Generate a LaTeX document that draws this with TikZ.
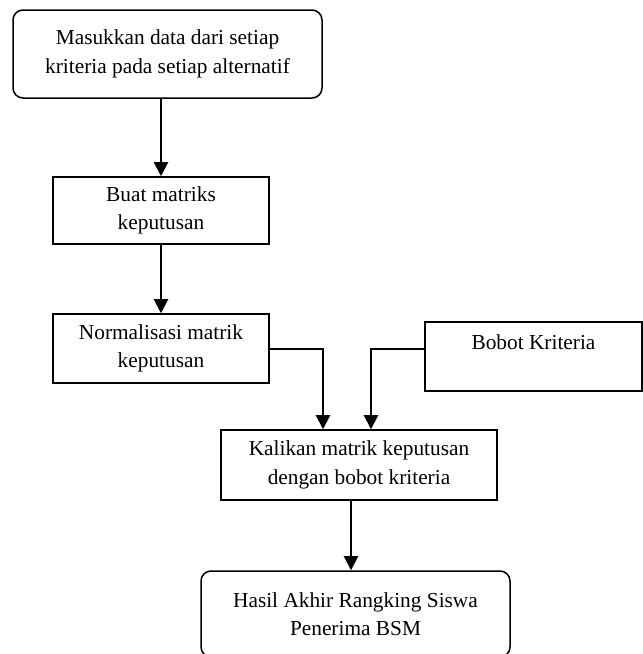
\documentclass[tikz,border=0pt]{standalone}
\usepackage{fontspec}
\setmainfont{Liberation Serif}
\usetikzlibrary{arrows.meta,calc}

\begin{document}
\begin{tikzpicture}[x=0.6pt,y=-0.6pt,
  kotak/.style={shape=rectangle,draw=black,line width=0.9pt,align=center,font=\fontsize{12.8}{17}\selectfont,inner sep=0pt},
  bulat/.style={kotak,rounded corners=6pt},
  panah/.style={line width=1.2pt,-{Triangle[width=8.5pt,length=8.5pt]}}]
\useasboundingbox (0,0) rectangle (643,654);
\clip (0,0) rectangle (643,654);
\node[bulat,minimum width=185.4pt,minimum height=52.8pt] (masuk) at (167.5,54) {Masukkan data dari setiap\\kriteria pada setiap alternatif};
\node[kotak,minimum width=129.6pt,minimum height=40.2pt] (buat) at (161,210.5) {Buat matriks\\keputusan};
\node[kotak,minimum width=129.6pt,minimum height=41.4pt] (norm) at (161,348.5) {Normalisasi matrik\\keputusan};
\node[kotak,minimum width=130.2pt,minimum height=41.4pt] (bobot) at (533.5,356.5) {Bobot Kriteria\\~};
\node[kotak,minimum width=165.6pt,minimum height=42pt] (kali) at (359,465) {Kalikan matrik keputusan\\dengan bobot kriteria};
\node[bulat,minimum width=185.4pt,minimum height=51.6pt] (hasil) at (355.5,614) {Hasil Akhir Rangking Siswa\\Penerima BSM};
\coordinate (keluar) at ($(kali.south)+(-8,0)$);
\draw[panah] (masuk.south -| buat.north) -- (buat.north);
\draw[panah] (buat.south) -- (norm.north);
\draw[panah] (norm.east) -| ($(kali.north)+(-36,0)$);
\draw[panah] (norm.east -| bobot.west) -| ($(kali.north)+(12,0)$);
\draw[panah] (keluar) -- (keluar |- hasil.north);
\end{tikzpicture}
\end{document}
